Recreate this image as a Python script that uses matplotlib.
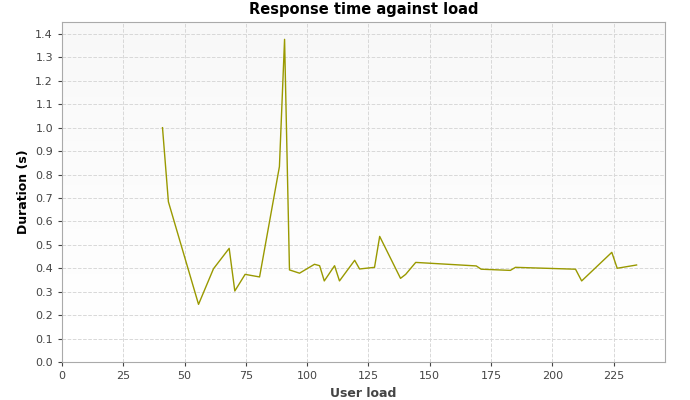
import numpy as np
import matplotlib
matplotlib.use("Agg")
import matplotlib.pyplot as plt

# datos
user_load = [41, 43.4, 55.7, 61.8, 68.2, 70.5, 74.7, 80.6, 88.7, 90.8, 92.8, 96.9,
             103.0, 105.1, 107.0, 111.2, 113.2, 119.4, 121.4, 127.5, 129.6, 138.1,
             140.2, 144.3, 169.0, 171.0, 182.9, 185.0, 209.5, 212.0, 224.3, 226.5, 234.4]
duration = [1.0, 0.684, 0.246, 0.398, 0.485, 0.303, 0.374, 0.363, 0.834, 1.377, 0.393, 0.379,
            0.417, 0.411, 0.346, 0.411, 0.346, 0.434, 0.397, 0.404, 0.536, 0.357,
            0.374, 0.425, 0.410, 0.396, 0.391, 0.404, 0.396, 0.346, 0.468, 0.400, 0.414]
x_ticks = np.arange(0, 226, 25)
y_ticks = np.round(np.arange(0, 1.41, 0.1), 1)

fig = plt.figure(figsize=(6.9, 4), dpi=100)
ax = fig.add_axes([62/690, 38/400, 603/690, 340/400])

xmax, ymax = 246, 1.451
# fondo: gris claro arriba, blanco abajo
grad = np.linspace(1.0, 0.97, 100).reshape(-1, 1)
ax.imshow(grad, cmap="gray", vmin=0, vmax=1, extent=[0, xmax, 0, ymax],
          origin="lower", aspect="auto", zorder=0)

ax.plot(user_load, duration, color="#999900", lw=1, zorder=3)

ax.set_xlim(0, xmax)
ax.set_ylim(0, ymax)
ax.set_xticks(x_ticks)
ax.set_yticks(y_ticks)
ax.set_yticklabels([f"{v:.1f}" for v in y_ticks])
ax.tick_params(labelsize=8, colors="#444444", length=3)
ax.grid(color="#d8d8d8", linestyle="--", linewidth=0.7, zorder=1)
for s in ax.spines.values():
    s.set_color("#aaaaaa")

ax.set_title("Response time against load", fontsize=10.5, fontweight="bold", pad=6)
ax.set_xlabel("User load", fontsize=9, fontweight="bold", color="#444444")
ax.set_ylabel("Duration (s)", fontsize=9, fontweight="bold")

fig.savefig("out.png", dpi=100)
